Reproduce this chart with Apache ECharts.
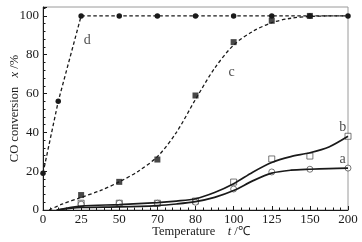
<!DOCTYPE html>
<html>
<head>
<meta charset="utf-8">
<script src="https://cdn.jsdelivr.net/npm/echarts@6/dist/echarts.min.js"></script>
<style>html,body{margin:0;padding:0;background:#fff}#c{width:362px;height:242px}</style>
</head>
<body>
<div id="c"></div>
<script>
// Axis tick temperatures (non-uniform axis)
var tickTemps = [0, 25, 50, 70, 80, 100, 125, 150, 200];
var tickLabels = ['0', '25', '50', '70', '80', '100', '125', '150', '200'];

// Series d (filled circles, dashed)
var dTemps = [0, 10, 25, 50, 70, 80, 100, 125, 150, 200];
var dVals  = [19, 56, 100, 100, 100, 100, 100, 100, 100, 100];

// Series c (filled squares) and its fitted dashed curve
var cTemps = [25, 50, 70, 80, 100, 125, 150];
var cVals  = [7.7, 14.5, 26, 59, 86.5, 97.5, 100];
var cFitTemps = [4, 12.5, 25, 37.5, 50, 60, 70, 75, 80, 90, 100, 112.5, 125, 137.5, 150, 175, 200];
var cFitVals  = [0, 3, 6.5, 10, 14.5, 20, 27.5, 40, 57, 73, 85, 92, 96.5, 98.8, 99.7, 100, 100];

// Series b (open squares) and fitted curve
var bTemps = [25, 50, 70, 80, 100, 125, 150, 200];
var bVals  = [3.5, 3.5, 3.5, 4.6, 14.4, 26.3, 27.8, 38];
var bFitTemps = [9, 25, 50, 70, 75, 80, 90, 100, 112.5, 125, 137.5, 150, 175, 200];
var bFitVals  = [0, 2, 2.8, 3.8, 4.6, 5.8, 9, 13.5, 19.5, 24.5, 27.5, 29.5, 32.5, 38];

// Series a (open circles) and fitted curve
var aTemps = [25, 50, 70, 80, 100, 125, 150, 200];
var aVals  = [3, 3.5, 3.5, 4, 10.8, 19.6, 21, 21.6];
var aFitTemps = [9, 25, 50, 70, 75, 80, 90, 100, 112.5, 125, 137.5, 150, 175, 200];
var aFitVals  = [0, 1.3, 1.6, 2.3, 3.1, 4.3, 6.5, 10, 15, 19, 20.5, 21, 21.3, 21.6];

// Curve labels
var curveNames = ['d', 'c', 'b', 'a'];
var curveLabelTemps = [29, 99, 193, 193];
var curveLabelVals  = [87.5, 71, 42.8, 26.3];

function pos(t) {
  for (var i = 0; i < tickTemps.length - 1; i++) {
    if (t <= tickTemps[i + 1]) {
      return i + (t - tickTemps[i]) / (tickTemps[i + 1] - tickTemps[i]);
    }
  }
  return tickTemps.length - 1;
}
function pts(ts, vs) { return ts.map(function (t, i) { return [pos(t), vs[i]]; }); }

var FONT = 'Liberation Serif';
var INK = '#1a1a1a';
var dash = [3.5, 2.5];
var FS = 13;

var chart = echarts.init(document.getElementById('c'), null, {renderer: 'canvas'});
chart.setOption({
  animation: false,
  grid: {left: 43, right: 14, top: 7, bottom: 32, containLabel: false, outerBoundsMode: 'none',
    show: true, borderColor: '#9a9a9a', borderWidth: 1},
  xAxis: {
    type: 'value', min: 0, max: tickTemps.length - 1, interval: 1,
    name: 'Temperature    {i|t} /℃', nameLocation: 'middle', nameGap: 15, nameMoveOverlap: false,
    nameTextStyle: {fontFamily: FONT, fontSize: 12.5, color: INK, padding: [0, 0, 0, 11],
      rich: {i: {fontFamily: FONT, fontStyle: 'italic', fontSize: 12.5, color: INK}}},
    axisLine: {lineStyle: {color: INK, width: 1}},
    axisTick: {inside: true, length: 4, lineStyle: {color: INK}},
    minorTick: {show: true, splitNumber: 5, length: 2.5, lineStyle: {color: INK}},
    splitLine: {show: false},
    axisLabel: {fontFamily: FONT, fontSize: FS, color: INK, margin: 3,
      formatter: function (v) { return tickLabels[Math.round(v)] || ''; }}
  },
  yAxis: {
    type: 'value', min: 0, max: 104.6, interval: 20,
    name: 'CO conversion   {i|x} /%', nameLocation: 'middle', nameGap: 22, nameMoveOverlap: false,
    nameTextStyle: {fontFamily: FONT, fontSize: 12.5, color: INK,
      rich: {i: {fontFamily: FONT, fontStyle: 'italic', fontSize: 12.5, color: INK}}},
    axisLine: {lineStyle: {color: INK, width: 1}},
    axisTick: {inside: true, length: 4, lineStyle: {color: INK}},
    minorTick: {show: true, splitNumber: 5, length: 2.5, lineStyle: {color: INK}},
    splitLine: {show: false},
    axisLabel: {fontFamily: FONT, fontSize: FS, color: INK, margin: 4, showMaxLabel: false,
      formatter: function (v) { return (v % 20 === 0) ? String(v) : ''; }}
  },
  series: [
    {type: 'line', data: pts(cFitTemps, cFitVals), smooth: 0.3, showSymbol: false,
      lineStyle: {color: INK, width: 1.3, type: dash}},
    {type: 'line', data: pts(bFitTemps, bFitVals), smooth: 0.3, showSymbol: false,
      lineStyle: {color: INK, width: 1.7}},
    {type: 'line', data: pts(aFitTemps, aFitVals), smooth: 0.3, showSymbol: false,
      lineStyle: {color: INK, width: 1.7}},
    {type: 'line', data: pts(dTemps, dVals), symbol: 'circle', symbolSize: 5.5, showSymbol: true,
      itemStyle: {color: INK}, lineStyle: {color: INK, width: 1.3, type: dash}},
    {type: 'scatter', data: pts(cTemps, cVals), symbol: 'rect', symbolSize: 6, itemStyle: {color: INK}},
    {type: 'scatter', data: pts(bTemps, bVals), symbol: 'rect', symbolSize: 6,
      itemStyle: {color: '#fff', borderColor: '#444', borderWidth: 0.9}},
    {type: 'scatter', data: pts(aTemps, aVals), symbol: 'circle', symbolSize: 6,
      itemStyle: {color: '#fff', borderColor: '#444', borderWidth: 0.9}},
    {type: 'scatter', symbolSize: 0, silent: true,
      data: curveNames.map(function (n, i) { return {name: n, value: [pos(curveLabelTemps[i]), curveLabelVals[i]]}; }),
      label: {show: true, position: 'inside', formatter: '{b}', fontFamily: FONT, fontSize: 14, color: INK}}
  ]
});
</script>
</body>
</html>
